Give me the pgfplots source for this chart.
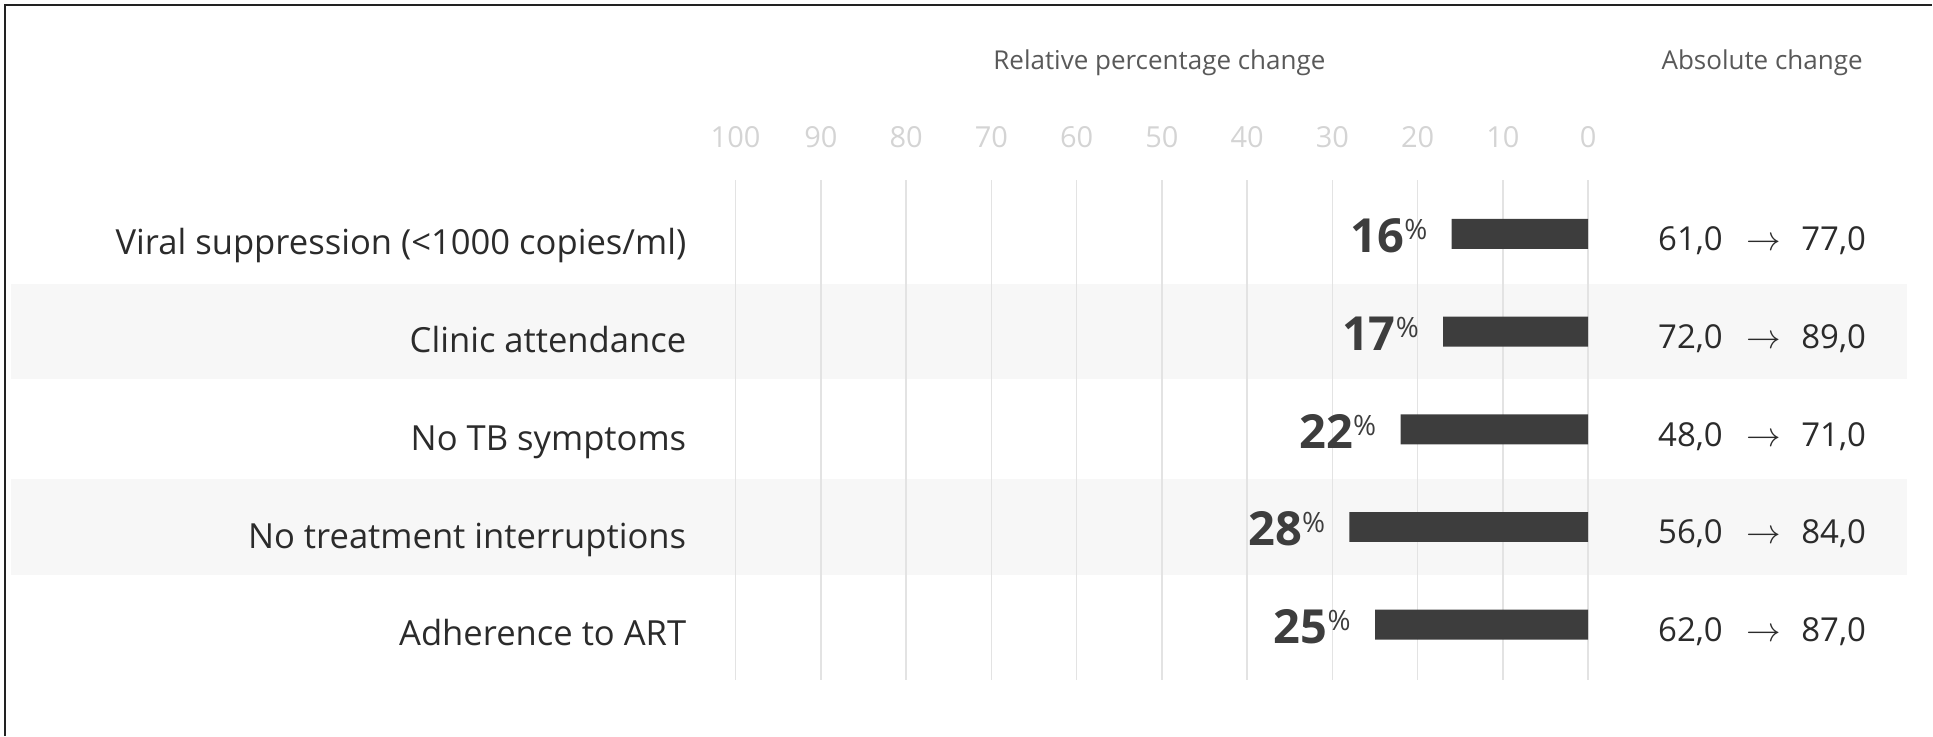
\documentclass[border=0pt]{standalone}
\usepackage{pgfplots}
\pgfplotsset{compat=1.18}
\usepackage{fontspec}
\setmainfont{Open Sans}
\definecolor{barcol}{HTML}{3D3D3D}
\definecolor{gridcol}{HTML}{E3E3E3}
\definecolor{tickcol}{HTML}{D4D4D4}
\definecolor{bandcol}{HTML}{F7F7F7}
\definecolor{headcol}{HTML}{595959}
\definecolor{txtcol}{HTML}{2B2B2B}
\definecolor{framecol}{HTML}{222222}
\begin{document}
\begin{tikzpicture}
\begin{axis}[
  width=966.5pt, height=368pt, scale only axis,
  hide axis, clip=false,
  x dir=reverse, y dir=reverse,
  xmin=-40.33, xmax=186.28,
  ymin=-2.3939, ymax=5.1355,
]
\path (rel axis cs:0,0) rectangle (rel axis cs:1,1);
% frame (top and left)
\draw[framecol, line width=1pt] (axis cs:185.7,5.1355) -- (axis cs:185.7,-2.3427) -- (axis cs:-40.33,-2.3427);
% alternating bands
\fill[bandcol] (axis cs:185.0,0.51) rectangle (axis cs:-37.40,1.49);
\fill[bandcol] (axis cs:185.0,2.51) rectangle (axis cs:-37.40,3.49);
% grid lines and tick labels
\pgfplotsinvokeforeach{0,10,...,100}{
  \draw[gridcol, line width=0.75pt] (axis cs:#1,-0.5524) -- (axis cs:#1,4.5627);
  \node[tickcol, anchor=base, inner sep=0pt, font=\fontsize{14.5}{17}\selectfont] at (axis cs:#1,-0.8798) {#1};
}
% headers
\node[headcol, anchor=base, inner sep=0pt, font=\fontsize{13}{15}\selectfont] at (axis cs:50.29,-1.678) {Relative percentage change};
\node[headcol, anchor=base, inner sep=0pt, font=\fontsize{13}{15}\selectfont] at (axis cs:-20.40,-1.678) {Absolute change};
% category labels
\node[txtcol, anchor=base east, inner sep=0pt, font=\fontsize{17.3}{20}\selectfont] at (axis cs:105.74,0.215) {Viral suppression (<1000 copies/ml)};
\node[txtcol, anchor=base east, inner sep=0pt, font=\fontsize{17.3}{20}\selectfont] at (axis cs:105.74,1.215) {Clinic attendance};
\node[txtcol, anchor=base east, inner sep=0pt, font=\fontsize{17.3}{20}\selectfont] at (axis cs:105.74,2.215) {No TB symptoms};
\node[txtcol, anchor=base east, inner sep=0pt, font=\fontsize{17.3}{20}\selectfont] at (axis cs:105.74,3.215) {No treatment interruptions};
\node[txtcol, anchor=base east, inner sep=0pt, font=\fontsize{17.3}{20}\selectfont] at (axis cs:105.74,4.215) {Adherence to ART};
% bars
\addplot[xbar, bar width=15pt, fill=barcol, draw=none, point meta=x,
  nodes near coords={\bfseries\pgfmathprintnumber[assume math mode=true,fixed,precision=0]{\pgfplotspointmeta}\raisebox{6.5pt}{\mdseries\fontsize{14}{14}\selectfont\%}},
  nodes near coords style={anchor=base east, inner sep=0pt, xshift=-12pt, yshift=-9.5pt, font=\fontsize{23.5}{26}\selectfont, text=barcol}]
  coordinates {(16,0) (17,1) (22,2) (28,3) (25,4)};
% absolute change
\addplot[draw=none, mark=none, point meta=explicit symbolic, nodes near coords,
  nodes near coords style={anchor=base, inner sep=0pt, yshift=-8.5pt, font=\fontsize{16.5}{19}\selectfont, text=txtcol}]
  coordinates {
    (-20.40,0) [61,0\hspace{12pt}$\rightarrow$\hspace{10pt}77,0]
    (-20.40,1) [72,0\hspace{12pt}$\rightarrow$\hspace{10pt}89,0]
    (-20.40,2) [48,0\hspace{12pt}$\rightarrow$\hspace{10pt}71,0]
    (-20.40,3) [56,0\hspace{12pt}$\rightarrow$\hspace{10pt}84,0]
    (-20.40,4) [62,0\hspace{12pt}$\rightarrow$\hspace{10pt}87,0]
  };
\end{axis}
\end{tikzpicture}
\end{document}
